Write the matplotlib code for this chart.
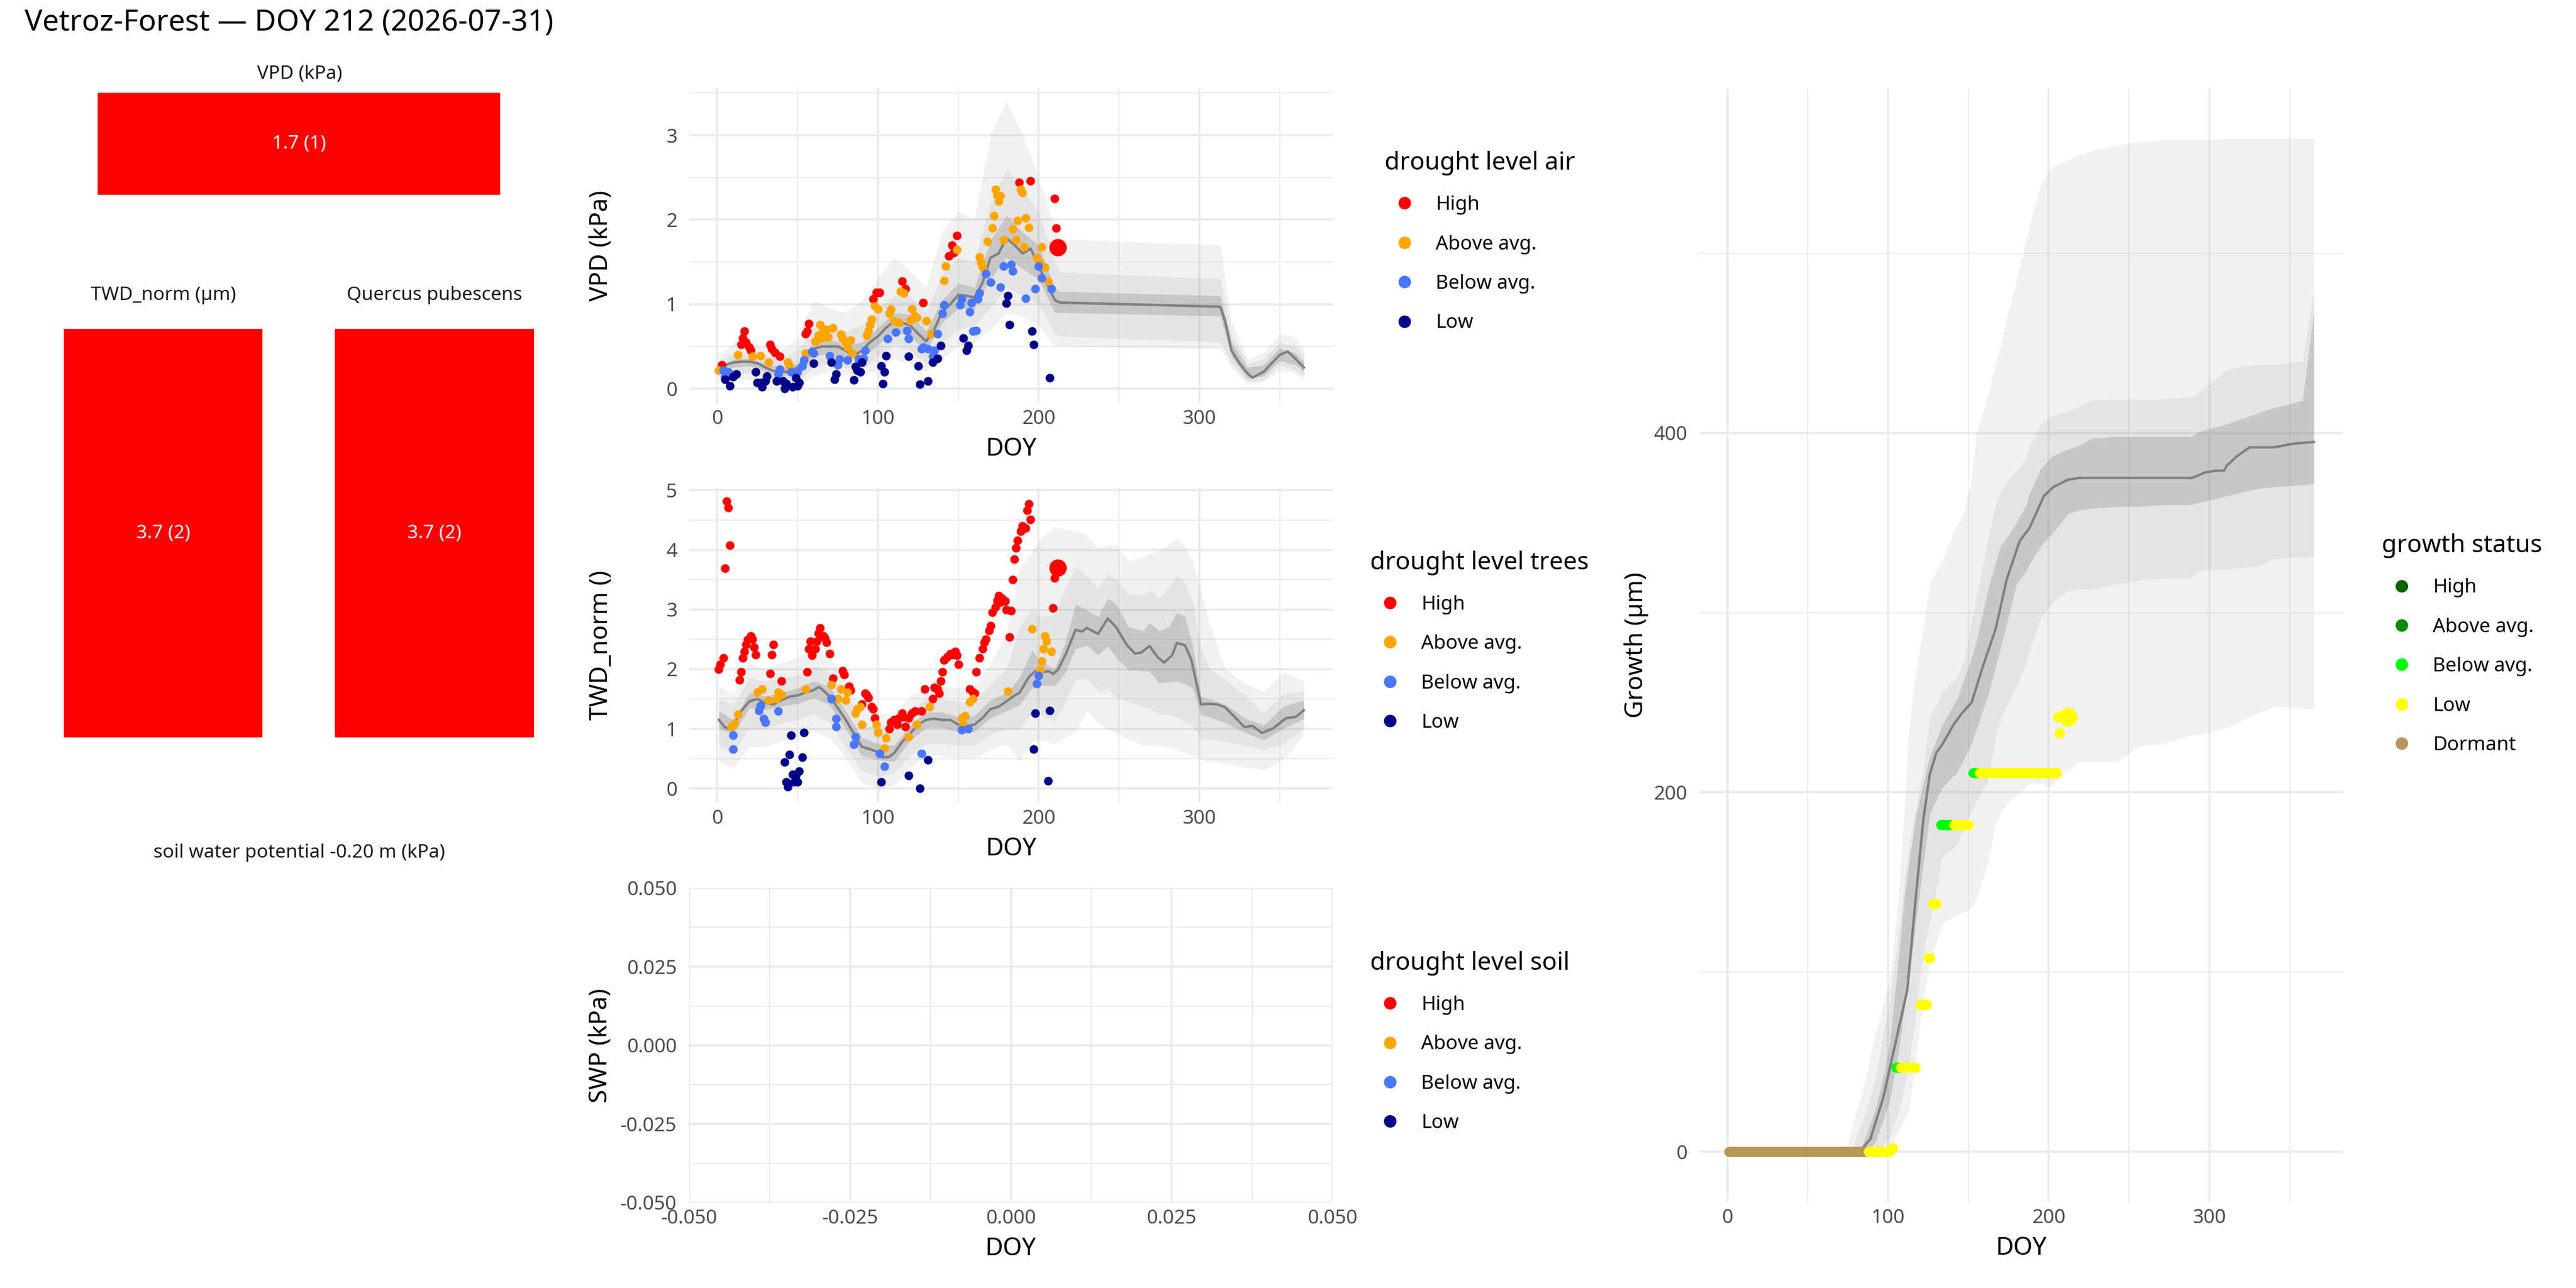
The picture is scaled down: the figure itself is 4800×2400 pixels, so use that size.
import matplotlib
matplotlib.use("Agg")
import matplotlib.pyplot as plt
from matplotlib.lines import Line2D
from matplotlib.ticker import MultipleLocator, FormatStrFormatter

plt.rcParams['font.family'] = ['Noto Sans', 'DejaVu Sans']
plt.rcParams['axes.unicode_minus'] = False

# ------------------------------------------------------------------ data
site_title = "Vetroz-Forest \u2014 DOY 212 (2026-07-31)"
today_doy = 212

levels = ["High", "Above avg.", "Below avg.", "Low"]
level_colors = ["#FF0000", "#FFA500", "#4876FF", "#00008B"]
growth_levels = ["High", "Above avg.", "Below avg.", "Low", "Dormant"]
growth_colors = ["#006400", "#008B00", "#00FF00", "#FFFF00", "#B8985A"]

# status tiles (left column)
tile_names = ["VPD (kPa)", "TWD_norm (\u00b5m)", "Quercus pubescens"]
tile_values = [1.7, 3.7, 3.7]
tile_class = [1, 2, 2]
tile_level = ["High", "High", "High"]
soil_caption = "soil water potential -0.20 m (kPa)"

# VPD climatology: median and three quantile ribbons
vpd_med_doy = [1, 5, 10, 15, 20, 25, 30, 35, 40, 45, 50, 55, 60, 65, 70, 75, 80, 85, 90, 95,
               100, 105, 110, 115, 120, 125, 130, 135, 140, 145, 150, 155, 160, 165, 170, 175,
               180, 185, 190, 195, 200, 205, 210, 213, 313, 316, 320, 325, 330, 333, 340, 345,
               350, 355, 360, 365]
vpd_med = [0.22, 0.28, 0.31, 0.32, 0.32, 0.3, 0.25, 0.21, 0.2, 0.2, 0.25, 0.35, 0.47, 0.5, 0.5,
           0.5, 0.45, 0.39, 0.45, 0.55, 0.62, 0.72, 0.8, 0.78, 0.75, 0.65, 0.56, 0.7, 0.91, 1.0,
           1.11, 1.1, 1.08, 1.25, 1.55, 1.6, 1.78, 1.7, 1.6, 1.66, 1.45, 1.25, 1.05, 1.02, 0.97,
           0.8, 0.45, 0.3, 0.18, 0.13, 0.2, 0.3, 0.4, 0.44, 0.35, 0.25]
vpd_band_doy = [1, 10, 20, 30, 40, 50, 60, 70, 80, 90, 100, 110, 120, 130, 140, 150, 160, 170,
                180, 190, 200, 210, 213, 313, 320, 330, 340, 350, 360, 365]
vpd_in_lo = [0.18, 0.25, 0.27, 0.2, 0.15, 0.18, 0.38, 0.42, 0.35, 0.35, 0.52, 0.68, 0.62, 0.45,
             0.78, 0.95, 0.95, 1.3, 1.55, 1.42, 1.3, 0.9, 0.9, 0.86, 0.38, 0.12, 0.15, 0.33, 0.28, 0.2]
vpd_in_hi = [0.26, 0.35, 0.36, 0.3, 0.25, 0.3, 0.55, 0.58, 0.52, 0.55, 0.72, 0.9, 0.88, 0.68,
             1.05, 1.25, 1.2, 1.75, 2.05, 1.85, 1.7, 1.2, 1.15, 1.1, 0.55, 0.25, 0.28, 0.48, 0.42, 0.32]
vpd_mid_lo = [0.12, 0.18, 0.18, 0.12, 0.08, 0.08, 0.25, 0.3, 0.25, 0.22, 0.38, 0.5, 0.45, 0.3,
              0.55, 0.7, 0.75, 0.95, 1.2, 1.1, 1.0, 0.65, 0.62, 0.55, 0.3, 0.08, 0.1, 0.28, 0.22, 0.15]
vpd_mid_hi = [0.32, 0.42, 0.45, 0.4, 0.35, 0.45, 0.72, 0.72, 0.68, 0.75, 0.95, 1.1, 1.1, 0.9,
              1.35, 1.55, 1.5, 2.2, 2.6, 2.35, 2.1, 1.5, 1.38, 1.3, 0.65, 0.3, 0.35, 0.55, 0.5, 0.4]
vpd_out_lo = [0.08, 0.12, 0.1, 0.05, 0.02, 0.0, 0.15, 0.2, 0.15, 0.12, 0.25, 0.35, 0.3, 0.2,
              0.35, 0.5, 0.55, 0.7, 0.9, 0.85, 0.75, 0.5, 0.5, 0.47, 0.25, 0.05, 0.08, 0.22, 0.18, 0.1]
vpd_out_hi = [0.38, 0.55, 0.55, 0.5, 0.45, 0.6, 1.05, 0.95, 0.9, 1.05, 1.3, 1.55, 1.4, 1.2,
              1.85, 2.1, 2.0, 3.0, 3.4, 3.0, 2.5, 1.9, 1.77, 1.7, 0.8, 0.35, 0.42, 0.65, 0.6, 0.48]

# VPD daily observations of this year, by drought level
vpd_high_doy = [3, 15, 16, 17, 18, 20, 21, 33, 34, 36, 39, 55, 56, 57, 97, 99, 101, 115, 117,
                128, 144, 146, 147, 149, 188, 195, 210, 211]
vpd_high = [0.28, 0.52, 0.6, 0.68, 0.55, 0.49, 0.45, 0.52, 0.47, 0.43, 0.38, 0.65, 0.68, 0.77,
            1.06, 1.14, 1.14, 1.27, 1.18, 1.02, 1.57, 1.7, 1.61, 1.81, 2.44, 2.46, 2.25, 1.9]
vpd_above_doy = [1, 13, 22, 27, 32, 44, 45, 55, 61, 63, 64, 66, 68, 65, 69, 72, 77, 78, 80, 81,
                 83, 84, 93, 94, 96, 95, 98, 100, 107, 108, 110, 113, 114, 116, 120, 121, 123,
                 124, 130, 133, 141, 142, 149, 163, 164, 165, 168, 171, 172, 173, 174, 175, 176,
                 178, 184, 186, 187, 189, 190, 191, 192, 194, 199, 201, 202, 204, 206]
vpd_above = [0.22, 0.4, 0.38, 0.39, 0.31, 0.31, 0.27, 0.42, 0.56, 0.63, 0.76, 0.68, 0.7, 0.6,
             0.61, 0.72, 0.64, 0.59, 0.55, 0.49, 0.57, 0.42, 0.63, 0.68, 0.82, 0.76, 0.98, 0.94,
             0.89, 0.94, 0.8, 0.78, 1.15, 1.13, 0.81, 0.94, 0.86, 0.84, 0.8, 0.65, 1.28, 1.45,
             1.65, 1.56, 1.49, 1.44, 1.74, 1.9, 2.05, 2.36, 2.29, 2.22, 2.28, 1.76, 1.89, 1.76,
             1.99, 2.36, 2.32, 1.68, 2.02, 1.91, 1.55, 1.49, 1.68, 1.44, 1.27]
vpd_below_doy = [4, 7, 5, 39, 38, 46, 50, 53, 54, 59, 60, 70, 75, 76, 81, 88, 91, 92, 106, 111,
                 118, 119, 127, 128, 131, 134, 135, 137, 140, 141, 151, 152, 157, 158, 159, 161,
                 162, 163, 167, 170, 176, 178, 183, 184, 192, 198, 200, 202, 208]
vpd_below = [0.22, 0.2, 0.15, 0.23, 0.17, 0.2, 0.2, 0.27, 0.34, 0.44, 0.42, 0.39, 0.28, 0.35,
             0.34, 0.35, 0.36, 0.45, 0.59, 0.67, 0.69, 0.59, 0.47, 0.49, 0.47, 0.38, 0.45, 0.65,
             0.89, 0.99, 0.99, 1.06, 0.91, 1.02, 0.68, 0.69, 1.06, 1.13, 1.36, 1.26, 1.2, 1.45,
             1.47, 1.39, 1.07, 1.18, 1.45, 1.31, 1.18]
vpd_low_doy = [5, 8, 10, 12, 24, 25, 27, 28, 31, 30, 37, 41, 42, 43, 47, 49, 50, 51, 60, 71,
               73, 74, 85, 86, 87, 89, 90, 102, 103, 104, 105, 119, 125, 126, 131, 134, 137,
               139, 153, 155, 156, 180, 181, 182, 196, 197, 207]
vpd_low = [0.11, 0.03, 0.14, 0.17, 0.2, 0.07, 0.07, 0.02, 0.15, 0.09, 0.09, 0.09, 0.0, 0.06,
           0.02, 0.13, 0.03, 0.07, 0.3, 0.31, 0.11, 0.17, 0.1, 0.26, 0.22, 0.2, 0.31, 0.27,
           0.06, 0.2, 0.39, 0.38, 0.27, 0.05, 0.09, 0.31, 0.36, 0.51, 0.6, 0.45, 0.51, 1.01,
           1.1, 0.76, 0.68, 0.52, 0.13]
vpd_today = 1.67
vpd_today_level = "High"

# TWD_norm climatology
twd_med_doy = [1, 5, 8, 12, 15, 20, 25, 30, 35, 40, 45, 50, 55, 60, 63, 65, 70, 75, 80, 85, 90,
               95, 100, 103, 107, 110, 115, 120, 125, 130, 135, 140, 145, 150, 155, 160, 165,
               170, 175, 180, 185, 188, 194, 198, 202, 206, 209, 212, 217, 223, 227, 230, 237,
               243, 248, 255, 260, 264, 269, 274, 278, 283, 286, 291, 295, 301, 307, 311, 316,
               323, 328, 333, 339, 346, 354, 360, 365]
twd_med = [1.15, 1.02, 1.0, 1.15, 1.3, 1.46, 1.5, 1.43, 1.41, 1.48, 1.54, 1.56, 1.61, 1.65, 1.7,
           1.67, 1.54, 1.35, 1.15, 0.92, 0.7, 0.66, 0.61, 0.52, 0.53, 0.59, 0.78, 0.92, 1.07,
           1.15, 1.17, 1.15, 1.15, 1.07, 1.04, 1.07, 1.18, 1.33, 1.37, 1.46, 1.56, 1.6, 1.87,
           1.97, 1.94, 1.97, 1.92, 1.99, 2.26, 2.66, 2.63, 2.69, 2.59, 2.85, 2.71, 2.4, 2.26,
           2.28, 2.39, 2.2, 2.11, 2.23, 2.44, 2.4, 2.16, 1.41, 1.42, 1.41, 1.36, 1.17, 1.03,
           1.05, 0.93, 1.01, 1.18, 1.2, 1.31]
twd_band_doy = [1, 10, 20, 30, 40, 50, 60, 70, 80, 90, 100, 110, 120, 130, 140, 150, 160, 170,
                180, 188, 196, 201, 210, 216, 223, 230, 237, 243, 248, 256, 265, 269, 275, 281,
                286, 291, 296, 301, 306, 316, 329, 340, 352, 365]
twd_in_lo = [1.0, 0.92, 1.35, 1.32, 1.38, 1.42, 1.52, 1.4, 1.0, 0.55, 0.48, 0.45, 0.8, 1.02,
             1.02, 0.95, 0.95, 1.18, 1.3, 1.4, 1.68, 1.73, 1.72, 1.92, 2.33, 2.4, 2.23, 2.39,
             2.2, 1.99, 1.97, 1.96, 1.77, 1.78, 1.8, 1.75, 1.68, 1.24, 1.2, 1.1, 0.93, 0.81,
             1.0, 1.17]
twd_in_hi = [1.3, 1.15, 1.6, 1.55, 1.6, 1.68, 1.8, 1.7, 1.3, 0.85, 0.75, 0.72, 1.05, 1.28,
             1.28, 1.2, 1.22, 1.48, 1.6, 1.85, 2.32, 2.13, 2.01, 2.4, 3.09, 2.99, 2.88, 3.19,
             3.09, 2.71, 2.64, 2.78, 2.64, 2.71, 2.95, 2.88, 2.37, 1.54, 1.5, 1.41, 1.17, 1.06,
             1.37, 1.48]
twd_mid_lo = [0.7, 0.6, 1.0, 1.0, 1.1, 1.15, 1.25, 1.1, 0.7, 0.3, 0.2, 0.25, 0.55, 0.75, 0.75,
              0.72, 0.72, 0.9, 1.0, 1.0, 1.27, 1.24, 1.13, 1.41, 1.82, 1.85, 1.61, 1.68, 1.53,
              1.44, 1.37, 1.34, 1.24, 1.24, 1.2, 1.13, 1.06, 0.82, 0.82, 0.79, 0.72, 0.65, 0.75,
              1.0]
twd_mid_hi = [1.5, 1.4, 1.85, 1.8, 1.85, 1.9, 2.05, 1.95, 1.6, 1.1, 1.0, 1.0, 1.3, 1.5, 1.5,
              1.45, 1.45, 1.75, 2.0, 2.7, 3.02, 2.88, 2.92, 3.33, 3.72, 3.57, 3.36, 3.6, 3.5,
              3.26, 3.23, 3.33, 3.19, 3.36, 3.57, 3.43, 3.12, 2.37, 2.02, 1.82, 1.54, 1.27, 1.58,
              1.63]
twd_out_lo = [0.45, 0.35, 0.7, 0.7, 0.8, 0.85, 0.95, 0.85, 0.5, 0.1, 0.0, 0.05, 0.35, 0.55,
              0.55, 0.5, 0.5, 0.65, 0.75, 0.45, 0.79, 0.81, 0.75, 0.85, 0.95, 1.3, 1.1, 1.0,
              0.93, 0.82, 0.72, 0.72, 0.72, 0.68, 0.65, 0.6, 0.55, 0.48, 0.45, 0.42, 0.35, 0.31,
              0.48, 0.9]
twd_out_hi = [1.7, 1.6, 2.1, 2.0, 2.1, 2.2, 2.3, 2.2, 1.8, 1.35, 1.25, 1.25, 1.55, 1.7, 1.7,
              1.7, 1.7, 2.1, 2.6, 3.67, 3.98, 4.19, 4.38, 4.35, 4.32, 4.25, 4.02, 4.08, 4.08,
              3.81, 3.88, 3.93, 3.98, 4.1, 4.2, 4.05, 3.8, 3.3, 2.8, 2.0, 1.75, 1.61, 1.94, 1.8]

# TWD_norm daily observations, by drought level
twd_high_doy = [1, 2, 4, 5, 6, 7, 8, 14, 15, 16, 17, 18, 19, 21, 22, 23, 24, 33, 34, 35, 40,
                56, 57, 58, 59, 61, 62, 63, 64, 66, 67, 68, 70, 72, 78, 79, 82, 83, 90, 92, 93,
                94, 96, 97, 98, 107, 108, 110, 112, 113, 115, 116, 117, 119, 121, 123, 127,
                129, 134, 135, 137, 138, 139, 140, 141, 143, 145, 146, 148, 149, 150, 157,
                159, 160, 161, 163, 165, 166, 167, 169, 170, 171, 173, 174, 175, 176, 177,
                179, 180, 182, 183, 184, 185, 186, 187, 189, 190, 192, 193, 194, 195, 209, 210]
twd_high = [2.0, 2.08, 2.19, 3.69, 4.81, 4.71, 4.08, 1.82, 1.95, 2.19, 2.3, 2.41, 2.49, 2.56,
            2.5, 2.37, 2.24, 1.93, 2.24, 2.41, 1.8, 1.95, 2.34, 2.47, 2.23, 2.34, 2.47, 2.6,
            2.69, 2.56, 2.52, 2.45, 2.26, 1.85, 1.97, 1.91, 1.71, 1.65, 1.41, 1.59, 1.57, 1.52,
            1.37, 1.33, 1.18, 1.0, 1.11, 1.15, 1.07, 1.18, 1.26, 1.2, 1.04, 1.18, 1.26, 1.3,
            1.3, 1.67, 1.5, 1.69, 1.67, 1.59, 1.8, 1.95, 2.15, 2.21, 2.26, 2.24, 2.3, 2.23,
            2.08, 1.67, 1.61, 1.59, 1.95, 2.19, 2.34, 2.45, 2.5, 2.65, 2.73, 2.95, 3.04, 3.15,
            3.23, 3.12, 3.19, 3.14, 3.0, 2.54, 2.98, 3.5, 3.84, 4.03, 4.16, 4.31, 4.4, 4.36,
            4.66, 4.77, 4.51, 3.02, 3.53]
twd_above_doy = [9, 11, 13, 25, 28, 32, 37, 38, 40, 55, 71, 75, 77, 80, 81, 86, 87, 89, 90, 99,
                 100, 104, 105, 119, 124, 132, 152, 154, 153, 157, 159, 181, 196, 201, 202,
                 203, 204, 205, 208]
twd_above = [1.04, 1.09, 1.24, 1.61, 1.67, 1.48, 1.5, 1.61, 1.58, 1.67, 1.74, 1.5, 1.67, 1.48,
             1.61, 1.26, 1.33, 1.37, 1.07, 1.07, 0.94, 0.68, 0.85, 0.87, 1.07, 1.37, 1.18,
             1.22, 1.07, 1.45, 1.5, 1.63, 2.67, 1.98, 2.13, 2.34, 2.56, 2.47, 2.3]
twd_below_doy = [10, 10, 26, 27, 29, 30, 38, 71, 74, 74, 86, 85, 101, 104, 127, 152, 156, 199, 200]
twd_below = [0.89, 0.66, 1.31, 1.39, 1.17, 1.11, 1.3, 1.5, 1.17, 1.04, 0.87, 0.74, 0.59, 0.37,
             0.59, 0.98, 1.0, 1.76, 1.89]
twd_low_doy = [42, 45, 46, 43, 44, 47, 48, 49, 50, 51, 53, 54, 102, 119, 126, 131, 197, 198, 206, 207]
twd_low = [0.44, 0.57, 0.89, 0.11, 0.03, 0.24, 0.11, 0.22, 0.11, 0.29, 0.52, 0.94, 0.11, 0.22,
           0.0, 0.48, 0.66, 1.26, 0.13, 1.31]
twd_today = 3.70
twd_today_level = "High"

# cumulative growth climatology
growth_med_doy = [1, 82, 89, 97, 104, 112, 117, 122, 126, 130, 134, 141, 146, 152, 159, 167,
                  174, 182, 188, 197, 203, 212, 219, 289, 292, 297, 304, 309, 311, 317, 325,
                  340, 352, 365]
growth_med = [0, 0, 7, 30, 58, 90, 139, 185, 210, 222, 227, 238, 244, 250, 270, 291, 319, 340,
              347, 365, 370, 374, 375, 375, 376, 378, 379, 379, 382, 387, 392, 392, 394, 395]
growth_band_doy = [1, 74, 77, 83, 86, 92, 98, 101, 107, 110, 113, 117, 122, 126, 134, 143, 147,
                   152, 155, 162, 167, 170, 174, 180, 186, 188, 195, 201, 204, 212, 219, 227,
                   242, 257, 271, 289, 292, 298, 311, 320, 330, 340, 358, 365]
growth_out_hi = [0, 0, 12, 30, 40, 65, 85, 95, 146, 190, 234, 265, 291, 316, 330, 349, 355, 375,
                 400, 420, 438, 448, 464, 485, 508, 515, 538, 547, 549, 552, 555, 557, 560, 562,
                 563, 563, 563, 563, 564, 564, 564, 564, 564, 564]
growth_out_lo = [0, 0, 0, 0, 0, 0, 0, 3, 12, 18, 23, 50, 85, 105, 127, 132, 133, 136, 140, 160,
                 182, 188, 194, 198, 203, 205, 205, 203, 206, 212, 217, 217, 217, 226, 227, 232,
                 232, 233, 236, 240, 244, 248, 247, 246]
growth_mid_hi = [0, 0, 0, 15, 22, 40, 70, 83, 125, 150, 170, 190, 213, 241, 256, 264, 273, 295,
                 308, 340, 360, 368, 373, 379, 386, 392, 405, 409, 410, 412, 415, 418, 419, 419,
                 419, 420, 421, 426, 435, 437, 438, 438, 440, 480]
growth_mid_lo = [0, 0, 0, 0, 0, 0, 4, 8, 23, 35, 48, 75, 111, 128, 164, 171, 180, 189, 195, 206,
                 231, 240, 249, 259, 272, 279, 297, 304, 307, 312, 313, 313, 316, 318, 319, 319,
                 323, 324, 324, 325, 326, 330, 331, 331]
growth_in_hi = [0, 0, 0, 0, 8, 23, 45, 60, 111, 140, 160, 185, 205, 220, 238, 252, 262, 275,
                284, 312, 328, 337, 342, 350, 360, 366, 380, 386, 388, 391, 393, 397, 398, 398,
                398, 398, 400, 402, 405, 408, 411, 414, 418, 468]
growth_in_lo = [0, 0, 0, 0, 0, 5, 20, 28, 58, 78, 95, 125, 160, 188, 203, 211, 218, 227, 235,
                253, 270, 280, 294, 316, 323, 327, 337, 343, 346, 355, 357, 358, 359, 359, 360,
                360, 361, 362, 365, 367, 369, 370, 371, 372]

# this year's growth: runs of consecutive days with the same value and status
growth_run_start = [1, 88, 103, 105, 108, 120, 125, 128, 133, 141, 153, 157, 207, 206]
growth_run_end = [86, 101, 103, 107, 117, 124, 126, 130, 140, 150, 156, 205, 207, 206]
growth_run_value = [0, 0, 2, 47, 47, 82, 108, 138, 182, 182, 211, 211, 233, 242]
growth_run_status = ["Dormant", "Low", "Low", "Below avg.", "Low", "Low", "Low", "Low",
                     "Below avg.", "Low", "Below avg.", "Low", "Low", "Low"]
growth_today = 242
growth_today_level = "Low"

# ------------------------------------------------------------------ helpers
GRID = "#EBEBEB"
TICK = "#4D4D4D"
BAND = "#7F7F7F"


def style_axes(ax):
    for s in ax.spines.values():
        s.set_visible(False)
    ax.set_axisbelow(True)
    ax.grid(which="major", color=GRID, lw=1.0)
    ax.grid(which="minor", color=GRID, lw=0.5)
    ax.tick_params(which="both", length=0, labelsize=8.8, labelcolor=TICK)
    ax.tick_params(axis="y", pad=5.5)
    ax.tick_params(axis="x", pad=3)


def set_labels(ax, xlabel, ylabel, xpos, ypos):
    ax.set_xlabel(xlabel, fontsize=11)
    ax.set_ylabel(ylabel, fontsize=11)
    ax.xaxis.label.set_va("center")
    ax.yaxis.label.set_va("center")
    ax.xaxis.set_label_coords(0.5, xpos)
    ax.yaxis.set_label_coords(ypos, 0.5)


def doy_axis(ax):
    ax.set_xlim(1 - 18.2, 365 + 18.2)
    ax.xaxis.set_major_locator(MultipleLocator(100))
    ax.xaxis.set_minor_locator(MultipleLocator(50))


def draw_bands(ax, doy, bands):
    for lo, hi, a in bands:
        ax.fill_between(doy, lo, hi, color=BAND, alpha=a, lw=0, zorder=1)


def draw_points(ax, groups):
    for (d, v), c in zip(groups, level_colors):
        ax.scatter(d, v, s=15, color=c, lw=0, zorder=3)


def add_legend(fig, title, names, colors, x, y):
    handles = [Line2D([], [], ls="", marker="o", ms=5.6, mfc=c, mec="none") for c in colors]
    fig.legend(handles, names, title=title, loc="upper left", bbox_to_anchor=(x, y),
               frameon=False, borderpad=0, borderaxespad=0, fontsize=8.8, title_fontsize=11,
               handlelength=2.0, handletextpad=0.6, labelspacing=1.02, alignment="left")


color_of = dict(zip(levels, level_colors))
gcolor_of = dict(zip(growth_levels, growth_colors))

fig = plt.figure(figsize=(16, 8), dpi=300)
fig.patch.set_facecolor("white")

fig.text(46 / 4800, 1 - 42 / 2400, site_title, fontsize=13.2, va="center", ha="left")

# ------------------------------------------------------------------ tiles
tile_rects = [[0.0379, 0.8488, 0.1563, 0.0792],
              [0.0248, 0.4275, 0.0771, 0.3171],
              [0.1300, 0.4275, 0.0773, 0.3171]]
tile_title_xy = [(558, 138), (304, 550), (810, 550)]
for rect, name, val, cls, lvl, (tx, ty) in zip(tile_rects, tile_names, tile_values, tile_class,
                                               tile_level, tile_title_xy):
    tax = fig.add_axes(rect)
    tax.set_facecolor(color_of[lvl])
    tax.set_xticks([])
    tax.set_yticks([])
    for s in tax.spines.values():
        s.set_visible(False)
    tax.text(0.5, 0.5, f"{val:.1f} ({cls})", color="white", fontsize=8.5,
             ha="center", va="center", transform=tax.transAxes)
    fig.text(tx / 4800, 1 - ty / 2400, name, fontsize=8.5, ha="center", va="center",
             color="#1A1A1A")
fig.text(558 / 4800, 1 - 1589 / 2400, soil_caption, fontsize=8.5, ha="center", va="center",
         color="#1A1A1A")

# ------------------------------------------------------------------ VPD
ax1 = fig.add_axes([0.2677, 0.6871, 0.2498, 0.2446])
style_axes(ax1)
doy_axis(ax1)
ax1.set_ylim(-0.17, 3.56)
ax1.yaxis.set_major_locator(MultipleLocator(1))
ax1.yaxis.set_minor_locator(MultipleLocator(0.5))
draw_bands(ax1, vpd_band_doy, [(vpd_out_lo, vpd_out_hi, 0.10),
                               (vpd_mid_lo, vpd_mid_hi, 0.11),
                               (vpd_in_lo, vpd_in_hi, 0.28)])
ax1.plot(vpd_med_doy, vpd_med, color="#808080", lw=1.1, zorder=2)
draw_points(ax1, [(vpd_high_doy, vpd_high), (vpd_above_doy, vpd_above),
                  (vpd_below_doy, vpd_below), (vpd_low_doy, vpd_low)])
ax1.scatter([today_doy], [vpd_today], s=60, color=color_of[vpd_today_level], lw=0, zorder=4)
set_labels(ax1, "DOY", "VPD (kPa)", -0.1465, -0.1376)

# ------------------------------------------------------------------ TWD
ax2 = fig.add_axes([0.2677, 0.3767, 0.2498, 0.2446])
style_axes(ax2)
doy_axis(ax2)
ax2.set_ylim(-0.24, 5.04)
ax2.yaxis.set_major_locator(MultipleLocator(1))
ax2.yaxis.set_minor_locator(MultipleLocator(0.5))
draw_bands(ax2, twd_band_doy, [(twd_out_lo, twd_out_hi, 0.10),
                               (twd_mid_lo, twd_mid_hi, 0.11),
                               (twd_in_lo, twd_in_hi, 0.28)])
ax2.plot(twd_med_doy, twd_med, color="#808080", lw=1.1, zorder=2)
draw_points(ax2, [(twd_high_doy, twd_high), (twd_above_doy, twd_above),
                  (twd_below_doy, twd_below), (twd_low_doy, twd_low)])
ax2.scatter([today_doy], [twd_today], s=60, color=color_of[twd_today_level], lw=0, zorder=4)
set_labels(ax2, "DOY", "TWD_norm ()", -0.1465, -0.1376)

# ------------------------------------------------------------------ SWP (no data)
ax3 = fig.add_axes([0.2675, 0.0663, 0.2498, 0.2442])
style_axes(ax3)
ax3.set_xlim(-0.05, 0.05)
ax3.set_ylim(-0.05, 0.05)
for axis in (ax3.xaxis, ax3.yaxis):
    axis.set_major_locator(MultipleLocator(0.025))
    axis.set_minor_locator(MultipleLocator(0.0125))
    axis.set_major_formatter(FormatStrFormatter("%.3f"))
set_labels(ax3, "DOY", "SWP (kPa)", -0.1465, -0.1376)

# ------------------------------------------------------------------ growth
ax4 = fig.add_axes([0.6598, 0.0667, 0.2498, 0.8650])
style_axes(ax4)
doy_axis(ax4)
ax4.set_ylim(-28, 592)
ax4.yaxis.set_major_locator(MultipleLocator(200))
ax4.yaxis.set_minor_locator(MultipleLocator(100))
draw_bands(ax4, growth_band_doy, [(growth_out_lo, growth_out_hi, 0.10),
                                  (growth_mid_lo, growth_mid_hi, 0.11),
                                  (growth_in_lo, growth_in_hi, 0.28)])
ax4.plot(growth_med_doy, growth_med, color="#808080", lw=1.1, zorder=2)
for s, e, v, st in zip(growth_run_start, growth_run_end, growth_run_value, growth_run_status):
    if s == e:
        ax4.scatter([s], [v], s=21, color=gcolor_of[st], lw=0, zorder=3)
    else:
        ax4.plot([s, e], [v, v], color=gcolor_of[st], lw=4.6, solid_capstyle="round", zorder=3)
ax4.scatter([today_doy], [growth_today], s=70, color=gcolor_of[growth_today_level], lw=0, zorder=4)
set_labels(ax4, "DOY", "Growth (\u00b5m)", -0.0414, -0.0984)

# ------------------------------------------------------------------ legends
add_legend(fig, "drought level air", levels, level_colors, 0.5375, 0.883)
add_legend(fig, "drought level trees", levels, level_colors, 0.5319, 0.5727)
add_legend(fig, "drought level soil", levels, level_colors, 0.5319, 0.2618)
add_legend(fig, "growth status", growth_levels, growth_colors, 0.9246, 0.5858)

fig.savefig("out.png", dpi=300, facecolor="white")
